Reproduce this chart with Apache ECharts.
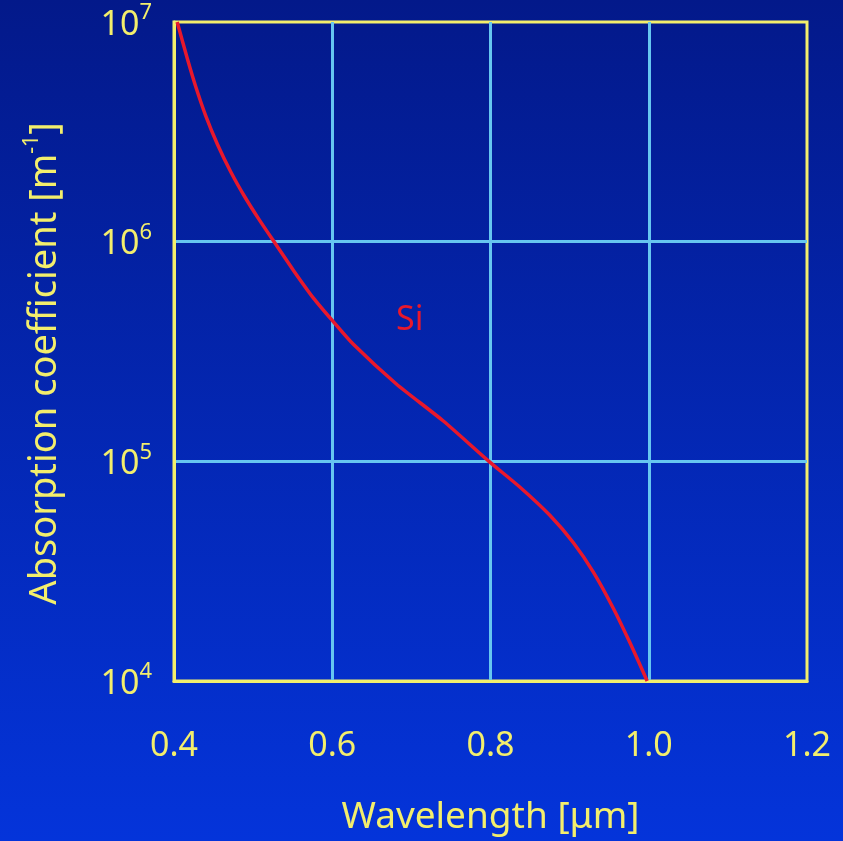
<!DOCTYPE html>
<html>
<head>
<meta charset="utf-8">
<script src="https://cdn.jsdelivr.net/npm/echarts@6/dist/echarts.min.js"></script>
<style>
  html, body { margin: 0; padding: 0; }
  #chart { width: 843px; height: 841px; }
</style>
</head>
<body>
<div id="chart"></div>
<script>
// Si absorption coefficient vs wavelength
var wavelength = [0.404, 0.417, 0.427, 0.440, 0.455, 0.472, 0.489, 0.507, 0.528, 0.551, 0.576, 0.600,
                  0.627, 0.681, 0.740, 0.798, 0.837, 0.875, 0.905, 0.930, 0.955, 0.976, 0.998];
var absorption = [1.0e7, 6.78e6, 5.14e6, 3.75e6, 2.77e6, 2.07e6, 1.61e6, 1.27e6, 9.8e5, 7.4e5, 5.55e5, 4.38e5,
                  3.4e5, 2.25e5, 1.53e5, 1.0e5, 7.64e4, 5.68e4, 4.25e4, 3.13e4, 2.15e4, 1.5e4, 1.0e4];
var xTicks = [0.4, 0.6, 0.8, 1.0, 1.2];
var siLabel = { text: 'Si', x: 0.698, y: 4.4e5 };

var yellow = '#f3ee6c';
var font = 'Noto Sans';

var chart = echarts.init(document.getElementById('chart'));

var points = wavelength.map(function (w, i) { return [w, absorption[i]]; });

var option = {
  backgroundColor: new echarts.graphic.LinearGradient(0, 0, 0, 1, [
    { offset: 0, color: '#03198a' },
    { offset: 1, color: '#0434da' }
  ]),
  animation: false,
  grid: {
    left: 174, right: 36, top: 22, bottom: 157,
    show: true,
    borderColor: yellow,
    borderWidth: 3
  },
  xAxis: {
    type: 'value',
    min: xTicks[0], max: xTicks[xTicks.length - 1], interval: 0.2,
    name: 'Wavelength [μm]',
    nameLocation: 'middle',
    nameGap: 118,
    nameTextStyle: { color: yellow, fontSize: 37, fontFamily: font },
    axisLine: { show: true, lineStyle: { color: yellow, width: 3 } },
    axisTick: { show: false },
    axisLabel: {
      color: yellow, fontSize: 34, fontFamily: font, margin: 48,
      formatter: function (v) { return v.toFixed(1); }
    },
    splitLine: {
      show: true, showMinLine: false, showMaxLine: false,
      lineStyle: { color: '#66c6f0', width: 3 }
    }
  },
  yAxis: {
    type: 'log',
    logBase: 10,
    min: 1e4, max: 1e7,
    name: '{a|Absorption coefficient [m}{s|-1}{a|]}',
    nameLocation: 'middle',
    nameGap: 110,
    nameTextStyle: {
      color: yellow, fontFamily: font, padding: [0, 24, 0, 0],
      rich: {
        a: { color: yellow, fontSize: 38, fontFamily: font, lineHeight: 42, verticalAlign: 'bottom' },
        s: { color: yellow, fontSize: 21, fontFamily: font, lineHeight: 42, verticalAlign: 'top' }
      }
    },
    axisLine: { show: true, lineStyle: { color: yellow, width: 3 } },
    axisTick: { show: false },
    axisLabel: {
      margin: 22,
      formatter: function (v) {
        return '{b|10}{s|' + Math.round(Math.log10(v)) + '}';
      },
      rich: {
        b: { color: yellow, fontSize: 34, fontFamily: font, lineHeight: 40, verticalAlign: 'bottom' },
        s: { color: yellow, fontSize: 22, fontFamily: font, lineHeight: 40, verticalAlign: 'top' }
      }
    },
    splitLine: {
      show: true, showMinLine: false, showMaxLine: false,
      lineStyle: { color: '#66c6f0', width: 3 }
    }
  },
  series: [{
    type: 'line',
    data: points,
    smooth: 0.25,
    showSymbol: false,
    lineStyle: { color: '#e8182c', width: 3.5 },
    markPoint: {
      symbol: 'circle',
      symbolSize: 1,
      itemStyle: { color: 'rgba(0,0,0,0)' },
      label: {
        show: true, position: 'inside', formatter: siLabel.text,
        color: '#e8182c', fontSize: 34, fontFamily: font
      },
      data: [{ coord: [siLabel.x, siLabel.y] }]
    }
  }]
};

chart.setOption(option);
</script>
</body>
</html>
